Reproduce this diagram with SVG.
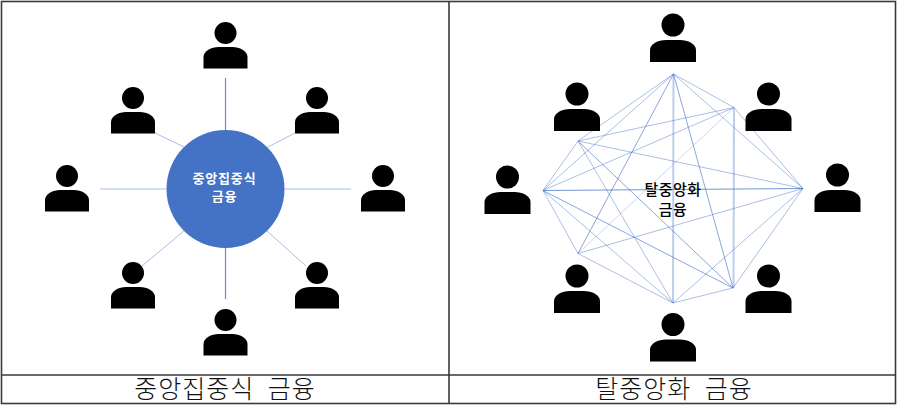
<svg xmlns="http://www.w3.org/2000/svg" width="897" height="405" viewBox="0 0 897 405">
<style>
.t{fill:none;stroke:#3a3a3a;stroke-width:1.6}
.c{fill:none;stroke:#4472c4;stroke-width:.9}
.a{opacity:.7}.b{opacity:.5}.d{opacity:.3}
.e{stroke-width:2;opacity:.35}
.cap{font-family:"Noto Sans CJK KR","Noto Sans",sans-serif;font-size:25px;font-weight:300;fill:#111;text-anchor:middle;letter-spacing:1px;word-spacing:7px}
.lab{font-family:"Noto Sans CJK KR","Noto Sans",sans-serif;font-size:13px;font-weight:700;letter-spacing:.8px;text-anchor:middle}
</style>
<defs>
<g id="pl"><circle cx="0" cy="0" r="11"/><path d="M-22 35.500V24C-22 18 -14 14 -7 14H7C14 14 22 18 22 24V35.500Z"/></g>
<g id="pr"><circle cx="0" cy="0" r="11.500"/><path d="M-23 37V25C-23 19 -15 15 -7 15H7C15 15 23 19 23 25V37Z"/></g>
</defs>
<rect width="897" height="405" fill="#fff"/>
<g id="table"><rect class="t" x="1.500" y="1.500" width="894" height="402"/><path class="t" d="M449 1V404M1 375H896"/></g>
<g id="left-connectors">
<path class="c" style="stroke-width:1.200;opacity:.8" d="M225.500 78V130M225.500 248V299"/>
<path class="c d" d="M100 189H166M285 189H351" style="stroke-width:1.500"/>
<path class="c b" d="M155 133L184 147M295 133L268 147M142 266L184 231M306 266L267 231"/>
</g>
<g id="right-connectors">
<path class="c e" d="M673.500 74L673 303M734 107.500L733.500 288"/>
<path class="c a" style="opacity:.85" d="M543 190.500L803 188.500"/>
<path class="c a" d="M673.500 74L733 288M578 141L733 288M543 190.500L733 288M673.500 74L578 253.500"/>
<path class="c b" d="M673.500 74L734 107.500M673.500 74L803 188.500M673.500 74L543 190.500M673.500 74L578 141M578 141L803 188.500M578 141L673 303M578 141L543 190.500M578 141L734 107.500M543 190.500L734 107.500M543 190.500L578 253.500M543 190.500L673 303M578 253.500L673 303M578 253.500L803 188.500M733 288L673 303M733 288L803 188.500M803 188.500L673 303M734 107.500L803 188.500"/>
<path class="c d" d="M578 253.500L734 107.500"/>
</g>
<g id="hub"><circle cx="225.500" cy="189" r="59" fill="#4472c4"/><text class="lab" x="224.500" y="183" fill="#fff">중앙집중식</text><text class="lab" x="224.500" y="201" fill="#fff">금융</text></g>
<g id="p-l1"><use href="#pl" x="225.500" y="33"/></g>
<g id="p-l2"><use href="#pl" x="133" y="98"/></g>
<g id="p-l3"><use href="#pl" x="317" y="98"/></g>
<g id="p-l4"><use href="#pl" x="67" y="176"/></g>
<g id="p-l5"><use href="#pl" x="383" y="176"/></g>
<g id="p-l6"><use href="#pl" x="133" y="273"/></g>
<g id="p-l7"><use href="#pl" x="317" y="273"/></g>
<g id="p-l8"><use href="#pl" x="225.500" y="320"/></g>
<g id="p-r1"><use href="#pr" x="673" y="25"/></g>
<g id="p-r2"><use href="#pr" x="577" y="94"/></g>
<g id="p-r3"><use href="#pr" x="768.500" y="94"/></g>
<g id="p-r4"><use href="#pr" x="507.500" y="177"/></g>
<g id="p-r5"><use href="#pr" x="837.500" y="175"/></g>
<g id="p-r6"><use href="#pr" x="577" y="276"/></g>
<g id="p-r7"><use href="#pr" x="768.500" y="276"/></g>
<g id="p-r8"><use href="#pr" x="673" y="324.500"/></g>
<g id="center-label"><text class="lab" style="font-size:15px;font-weight:500;letter-spacing:.5px" x="673" y="195" fill="#000">탈중앙화</text><text class="lab" style="font-size:15px;font-weight:500;letter-spacing:.5px" x="673" y="215" fill="#000">금융</text></g>
<g id="captions"><text class="cap" x="225" y="398">중앙집중식 금융</text><text class="cap" x="674" y="398">탈중앙화 금융</text></g>
</svg>
